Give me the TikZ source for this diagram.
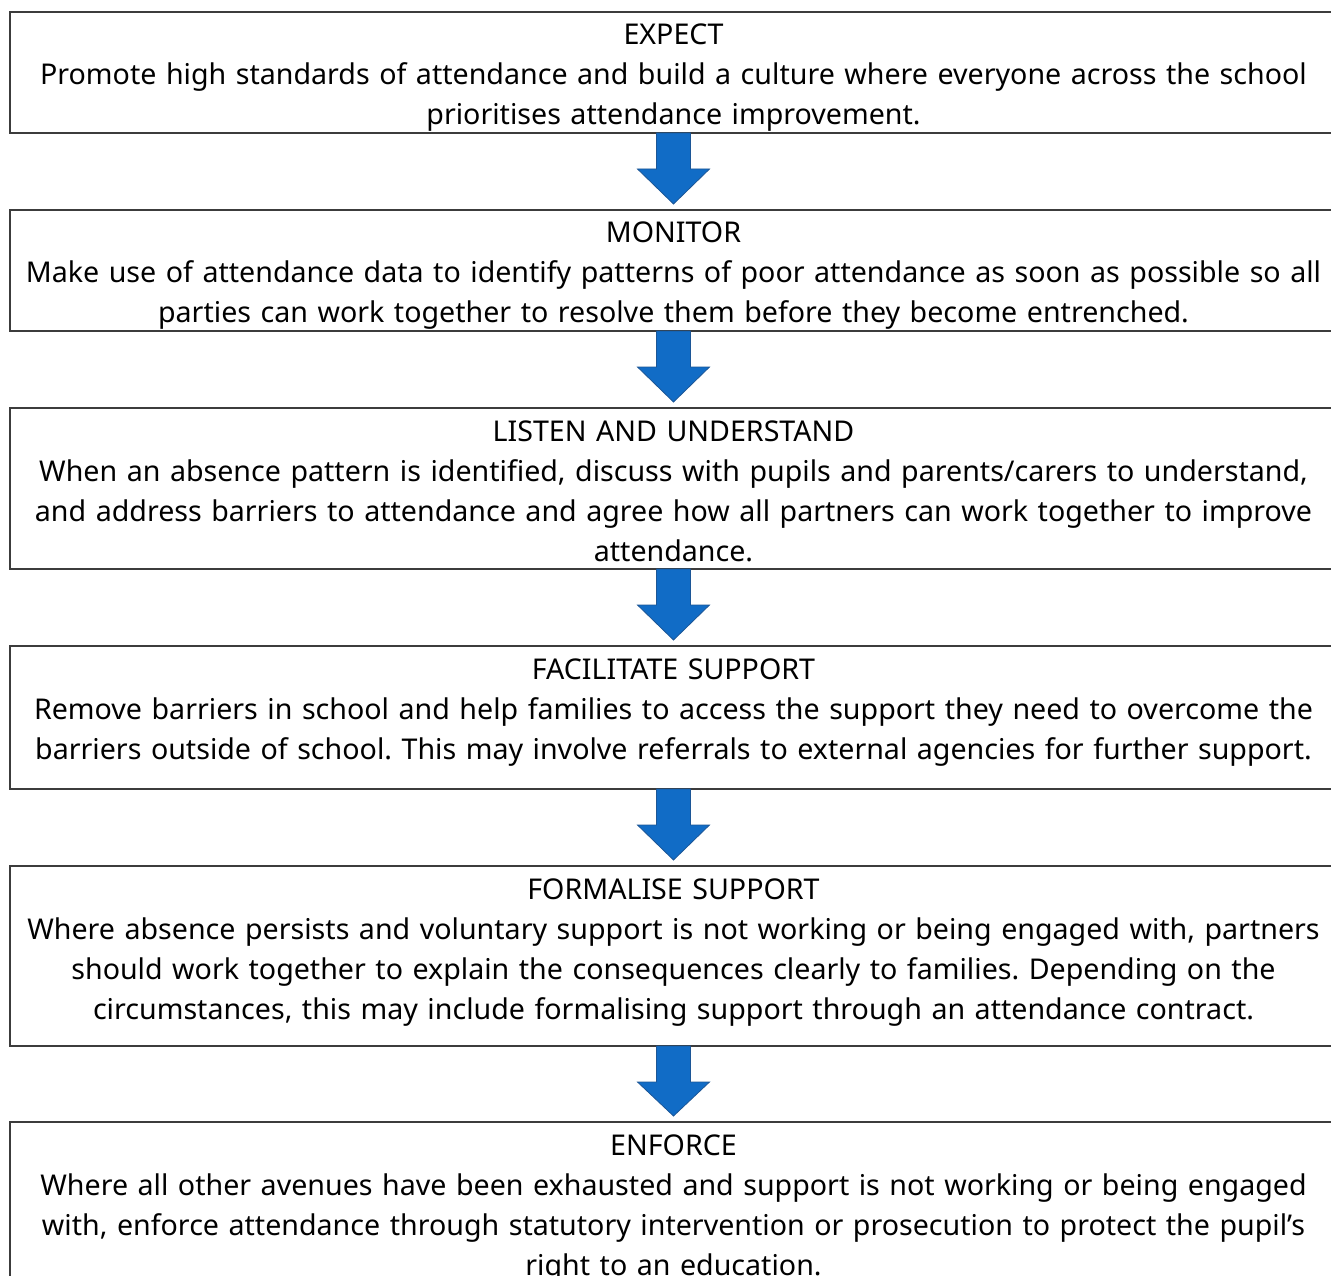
\documentclass[tikz,border=0pt]{standalone}
\usepackage{fontspec}
\setmainfont{Noto Sans}
\usetikzlibrary{calc}
\definecolor{arrowblue}{RGB}{17,108,198}
\definecolor{arrowedge}{RGB}{28,86,150}
\definecolor{boxedge}{RGB}{60,60,60}
\frenchspacing
\tikzset{
  stagebox/.style={draw=boxedge, line width=1.2pt, minimum width=1327pt, anchor=north, inner sep=0pt, outer sep=0pt},
  stagetext/.style={anchor=base, text width=1325pt, align=center, inner sep=0pt, font=\fontsize{28.6}{40}\selectfont},
  downarrow/.style={fill=arrowblue, draw=arrowedge, line width=0.8pt, line join=miter}
}
\newcommand{\flowarrow}[2]{%
  \draw[downarrow] ($(#1.south)+(-17,0)$) -- ($(#1.south)+(-17,-36)$) -- ($(#1.south)+(-36,-36)$)
    -- ($(#2.north)+(0,6)$) -- ($(#1.south)+(36,-36)$) -- ($(#1.south)+(17,-36)$) -- ($(#1.south)+(17,0)$) -- cycle;}
\begin{document}
\begin{tikzpicture}[x=1pt,y=1pt]
\useasboundingbox (0,0) rectangle (1331,-1276);
\clip (0,0) rectangle (1331,-1276);
\fill[white] (0,0) rectangle (1331,-1276);
\node[stagebox, minimum height=121pt] (b1) at (673.5,-12) {};
\node[stagebox, minimum height=121pt] (b2) at (673.5,-210) {};
\node[stagebox, minimum height=161pt] (b3) at (673.5,-408) {};
\node[stagebox, minimum height=143pt] (b4) at (673.5,-646) {};
\node[stagebox, minimum height=180pt] (b5) at (673.5,-866) {};
\node[stagebox, minimum height=200pt] (b6) at (673.5,-1122) {};
\node[stagetext] (t1) at ($(b1.north)+(0,-33)$) {EXPECT\\Promote high standards of attendance and build a culture where everyone across the school\\prioritises attendance improvement.};
\node[stagetext] (t2) at ($(b2.north)+(0,-33)$) {MONITOR\\Make use of attendance data to identify patterns of poor attendance as soon as possible so all\\parties can work together to resolve them before they become entrenched.};
\node[stagetext] (t3) at ($(b3.north)+(0,-33)$) {LISTEN AND UNDERSTAND\\When an absence pattern is identified, discuss with pupils and parents/carers to understand,\\and address barriers to attendance and agree how all partners can work together to improve\\attendance.};
\node[stagetext] (t4) at ($(b4.north)+(0,-33)$) {FACILITATE SUPPORT\\Remove barriers in school and help families to access the support they need to overcome the\\barriers outside of school. This may involve referrals to external agencies for further support.};
\node[stagetext] (t5) at ($(b5.north)+(0,-33)$) {FORMALISE SUPPORT\\Where absence persists and voluntary support is not working or being engaged with, partners\\should work together to explain the consequences clearly to families. Depending on the\\circumstances, this may include formalising support through an attendance contract.};
\node[stagetext] (t6) at ($(b6.north)+(0,-33)$) {ENFORCE\\Where all other avenues have been exhausted and support is not working or being engaged\\with, enforce attendance through statutory intervention or prosecution to protect the pupil’s\\right to an education.};
\flowarrow{b1}{b2}
\flowarrow{b2}{b3}
\flowarrow{b3}{b4}
\flowarrow{b4}{b5}
\flowarrow{b5}{b6}
\end{tikzpicture}
\end{document}
